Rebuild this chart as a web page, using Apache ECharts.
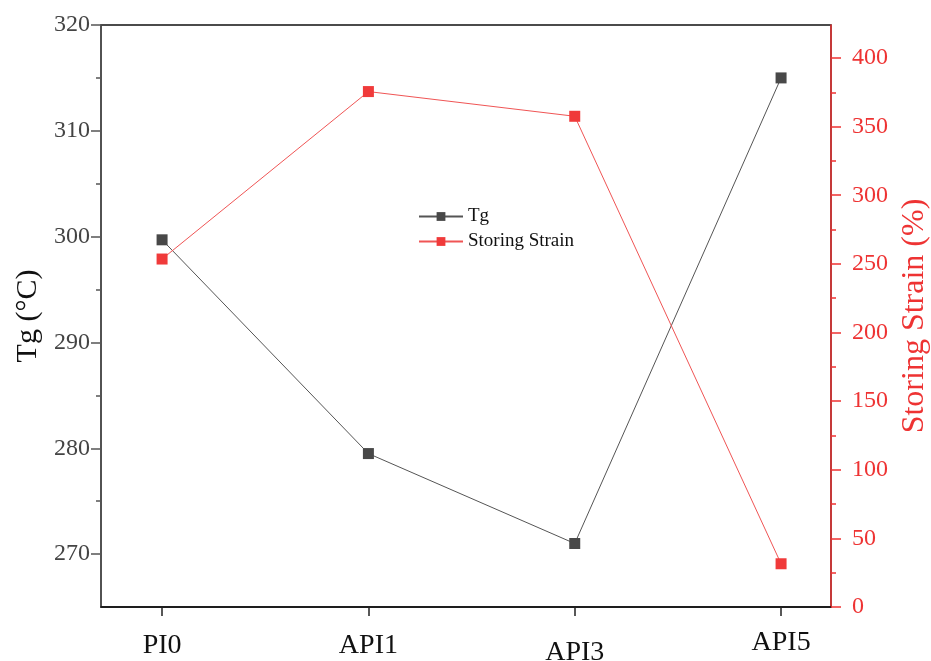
<!DOCTYPE html>
<html>
<head>
<meta charset="utf-8">
<script src="https://cdn.jsdelivr.net/npm/echarts@6/dist/echarts.min.js"></script>
<style>html,body{margin:0;padding:0;background:#fff;}#c{width:931px;height:661px;}</style>
</head>
<body>
<div id="c"></div>
<script>
const categories = ['PI0', 'API1', 'API3', 'API5'];
const tgValues = [299.7, 279.5, 271.0, 315.0];
const strainValues = [253.5, 375.5, 357.5, 31.5];
const tgTicks = [270, 280, 290, 300, 310, 320];
const tgMinorTicks = [275, 285, 295, 305, 315];
const strainTicks = [0, 50, 100, 150, 200, 250, 300, 350, 400];
const strainMinorTicks = [25, 75, 125, 175, 225, 275, 325, 375];
const labelShift = { 'PI0': 'n', 'API1': 'n', 'API3': 'd', 'API5': 'u' };

const FONT = '"Liberation Serif", "Times New Roman", serif';
const RED = '#ee3333';
const chart = echarts.init(document.getElementById('c'), null, { renderer: 'canvas' });

const tgData = categories.map((c, i) => [i, tgValues[i]]);
const strainData = categories.map((c, i) => [i, strainValues[i]]);

chart.setOption({
  backgroundColor: '#fff',
  animation: false,
  grid: { left: 101, right: 100, top: 25, bottom: 54, show: true, borderColor: '#111', borderWidth: 1.5, backgroundColor: 'transparent', outerBoundsMode: 'none', containLabel: false },
  legend: {
    orient: 'vertical', left: 413, top: 202,
    itemWidth: 44, itemHeight: 11, itemGap: 6,
    textStyle: { fontFamily: FONT, fontSize: 19, color: '#111' },
    data: ['Tg', 'Storing Strain']
  },
  xAxis: {
    type: 'value', min: -0.296, max: 3.242,
    axisLine: { show: true, onZero: false, lineStyle: { color: '#111', width: 1.5 } },
    axisTick: { show: true, length: 9, customValues: [0, 1, 2, 3], lineStyle: { color: '#222', width: 1.5 } },
    splitLine: { show: false },
    axisLabel: {
      customValues: [0, 1, 2, 3], margin: 22,
      fontFamily: FONT, fontSize: 28, color: '#111',
      formatter: v => { const c = categories[Math.round(v)]; return '{' + labelShift[c] + '|' + c + '}'; },
      rich: {
        n: { fontFamily: FONT, fontSize: 28, color: '#111', padding: [3, 0, 0, 0] },
        d: { fontFamily: FONT, fontSize: 28, color: '#111', padding: [10, 0, 0, 0] },
        u: { fontFamily: FONT, fontSize: 28, color: '#111', padding: [0, 0, 0, 0] }
      }
    }
  },
  yAxis: [
    {
      type: 'value', position: 'left', min: 265, max: 320,
      name: 'Tg (°C)', nameLocation: 'middle', nameRotate: 90, nameGap: 57,
      nameTextStyle: { fontFamily: FONT, fontSize: 30, color: '#111' },
      axisLine: { show: true, onZero: false, lineStyle: { color: '#555', width: 1.5 } },
      axisTick: { show: true, length: 10, customValues: tgTicks, lineStyle: { color: '#555', width: 1.5 } },
      axisLabel: { customValues: tgTicks, margin: 11, fontFamily: FONT, fontSize: 24, color: '#444' },
      splitLine: { show: false }
    },
    {
      type: 'value', position: 'right', min: 0, max: 424,
      name: 'Storing Strain (%)', nameLocation: 'middle', nameRotate: 90, nameGap: 63,
      nameTextStyle: { fontFamily: FONT, fontSize: 32, color: RED },
      axisLine: { show: true, onZero: false, lineStyle: { color: RED, width: 1.5 } },
      axisTick: { show: true, length: 10, customValues: strainTicks, lineStyle: { color: RED, width: 1.5 } },
      axisLabel: { customValues: strainTicks, margin: 21, fontFamily: FONT, fontSize: 24, color: RED },
      splitLine: { show: false }
    },
    {
      type: 'value', position: 'left', min: 265, max: 320,
      axisLine: { show: false, onZero: false },
      axisTick: { show: true, length: 5, customValues: tgMinorTicks, lineStyle: { color: '#555', width: 1.5 } },
      axisLabel: { show: false },
      splitLine: { show: false }
    },
    {
      type: 'value', position: 'right', min: 0, max: 424,
      axisLine: { show: false, onZero: false },
      axisTick: { show: true, length: 5, customValues: strainMinorTicks, lineStyle: { color: RED, width: 1.5 } },
      axisLabel: { show: false },
      splitLine: { show: false }
    }
  ],
  series: [
    {
      name: 'Tg', type: 'line', yAxisIndex: 0, data: tgData,
      symbol: 'rect', symbolSize: 11,
      itemStyle: { color: '#484848' },
      lineStyle: { color: '#555', width: 1 }
    },
    {
      name: 'Storing Strain', type: 'line', yAxisIndex: 1, data: strainData,
      symbol: 'rect', symbolSize: 11,
      itemStyle: { color: '#f03a3a' },
      lineStyle: { color: '#f05555', width: 1 }
    }
  ]
});
</script>
</body>
</html>
